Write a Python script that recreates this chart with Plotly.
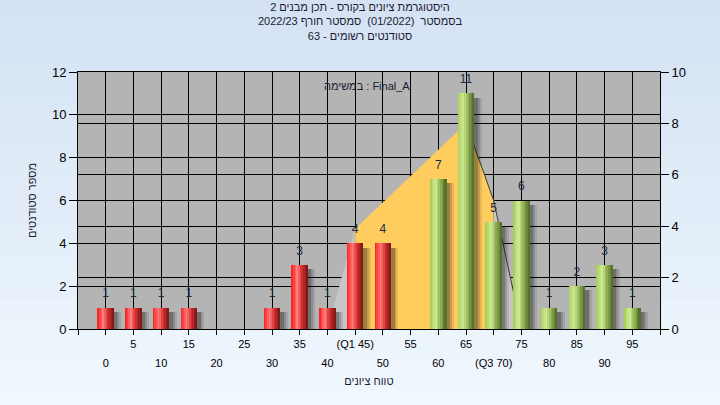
import plotly.graph_objects as go

# ---------------- data ----------------
grades = [0, 5, 10, 15, 20, 25, 30, 35, 40, 45, 50, 55, 60, 65, 70, 75, 80, 85, 90, 95]
counts = [1, 1, 1, 1, 0, 0, 1, 3, 1, 4, 4, 0, 7, 11, 5, 6, 1, 2, 3, 1]
tick_labels = ['0', '5', '10', '15', '20', '25', '30', '35', '40', '(Q1 45)',
               '50', '55', '60', '65', '(Q3 70)', '75', '80', '85', '90', '95']
curve_x = [40, 45, 65, 70, 75]
curve_y = [0, 3.9, 8.0, 5.0, 0]
q1, q3 = 45, 70
pass_grade = 55
title_lines = ['היסטוגרמת ציונים בקורס - תכן מבנים 2',
               'בסמסטר  (01/2022)  סמסטר חורף 2022/23',
               'סטודנטים רשומים - 63']
task_label = 'במשימה : Final_A'
y_title = 'מספר סטודנטים'
x_title = 'טווח ציונים'

# ---------------- style ----------------
FONT = 'Liberation Sans, Arial, DejaVu Sans, sans-serif'
W, H = 720, 405
ML, MR, MT, MB = 78, 60, 72, 76
BAR_W = 3.0
N_SLICES = 10
red_stops = [(0, (236, 30, 30)), (0.12, (255, 56, 56)), (0.36, (255, 128, 128)),
             (0.6, (218, 50, 50)), (1, (118, 20, 20))]
green_stops = [(0, (160, 200, 84)), (0.12, (182, 218, 108)), (0.34, (206, 234, 150)),
               (0.6, (150, 182, 86)), (1, (76, 104, 38))]


def interp(stops, t):
    for (t0, c0), (t1, c1) in zip(stops[:-1], stops[1:]):
        if t0 <= t <= t1:
            f = (t - t0) / (t1 - t0)
            c = [round(a + (b - a) * f) for a, b in zip(c0, c1)]
            return 'rgb(%d,%d,%d)' % tuple(c)
    return 'rgb(%d,%d,%d)' % stops[-1][1]


fig = go.Figure()

# overlay area (right axis = main y)
left_pts = [(x, y) for x, y in zip(curve_x, curve_y) if x <= q1]
mid_pts = [(x, y) for x, y in zip(curve_x, curve_y) if q1 <= x <= q3]
right_pts = [(x, y) for x, y in zip(curve_x, curve_y) if x >= q3]
peak_i = curve_y.index(max(curve_y))
line_pts = list(zip(curve_x, curve_y))[peak_i:]


def poly(pts, color):
    xs = [p[0] for p in pts]
    ys = [p[1] for p in pts]
    fig.add_trace(go.Scatter(x=xs, y=ys, fill='toself', fillcolor=color, mode='lines',
                             line=dict(width=0, color=color), xaxis='x', yaxis='y',
                             showlegend=False, hoverinfo='skip'))


poly(left_pts + [(q1, 0)], '#c6c6c6')
poly(right_pts + [(q3, 0)], '#c6c6c6')
poly([(q1, 0)] + mid_pts + [(q3, 0)], '#ffcc5e')
fig.add_trace(go.Scatter(x=[p[0] for p in line_pts], y=[p[1] for p in line_pts], mode='lines',
                         line=dict(color='#3c3c3c', width=1), xaxis='x', yaxis='y',
                         showlegend=False, hoverinfo='skip'))

# dummy for second tick row axis
fig.add_trace(go.Scatter(x=[grades[0]], y=[None], xaxis='x2', yaxis='y', mode='markers',
                         showlegend=False, hoverinfo='skip'))

# shadows
for dx, alpha in [(1.3, 0.10), (0.95, 0.16), (0.6, 0.24)]:
    fig.add_trace(go.Bar(x=grades, y=[max(c - 0.2, 0) for c in counts], width=BAR_W,
                         offset=-BAR_W / 2 + dx, xaxis='x', yaxis='y2',
                         marker=dict(color='rgba(20,20,20,%.2f)' % alpha, line=dict(width=0)),
                         showlegend=False, hoverinfo='skip'))

# cylinder bars as vertical slices
for i in range(N_SLICES):
    t = (i + 0.5) / N_SLICES
    cols = [interp(red_stops if g < pass_grade else green_stops, t) for g in grades]
    w = BAR_W / N_SLICES + (0.1 if i < N_SLICES - 1 else 0)
    fig.add_trace(go.Bar(x=grades, y=counts, width=w, offset=-BAR_W / 2 + i * BAR_W / N_SLICES,
                         xaxis='x', yaxis='y2', marker=dict(color=cols, line=dict(width=0)),
                         showlegend=False, hoverinfo='skip'))

# value labels
lx = [g for g, c in zip(grades, counts) if c > 0]
ly = [c for c in counts if c > 0]
fig.add_trace(go.Scatter(x=lx, y=ly, text=[str(c) for c in ly], mode='markers+text',
                         marker=dict(size=10, opacity=0),
                         textposition='top center', xaxis='x', yaxis='y2',
                         textfont=dict(family=FONT, size=12, color='#1c2a48'),
                         showlegend=False, hoverinfo='skip'))

# page background gradient + plot background
shapes = []
nb = 27
x_left, x_right = -ML / (W - ML - MR), 1 + MR / (W - ML - MR)
ph = H - MT - MB
for k in range(nb):
    f = k / (nb - 1)
    c0, c1 = (212, 226, 244), (240, 247, 253)
    col = 'rgb(%d,%d,%d)' % tuple(round(a + (b - a) * f) for a, b in zip(c0, c1))
    top_px = k * H / nb
    bot_px = (k + 1) * H / nb + 1
    shapes.append(dict(type='rect', xref='paper', yref='paper', layer='below',
                       x0=x_left, x1=x_right,
                       y0=1 - (bot_px - MT) / ph, y1=1 - (top_px - MT) / ph,
                       fillcolor=col, line=dict(width=0)))
shapes.append(dict(type='rect', xref='paper', yref='paper', layer='below', x0=0, x1=1, y0=0, y1=1,
                   fillcolor='#b4b4b4', line=dict(width=0)))

row2 = [(g, t) for i, (g, t) in enumerate(zip(grades, tick_labels)) if i % 2 == 0]
edge_lo, edge_hi = grades[0] - 5, grades[-1] + 5
x_ticks = [edge_lo] + grades + [edge_hi]
x_text = [''] + [t if i % 2 == 1 else '' for i, t in enumerate(tick_labels)] + ['']

fig.update_layout(
    width=W, height=H,
    margin=dict(l=ML, r=MR, t=MT, b=MB),
    paper_bgcolor='#e4edf8', plot_bgcolor='rgba(0,0,0,0)',
    barmode='overlay', bargap=0,
    shapes=shapes,
    font=dict(family=FONT, color='#000000'),
    title=dict(text='<br>'.join(title_lines), x=0.5, xref='container', xanchor='center',
               y=1 - 11 / H, yref='container', yanchor='top',
               font=dict(family=FONT, size=11, color='#1a1a30')),
    xaxis=dict(range=[edge_lo, edge_hi], anchor='y', tickmode='array', tickvals=x_ticks, ticktext=x_text,
               ticks='outside', ticklen=5, tickcolor='black', showgrid=True, gridcolor='black', gridwidth=1,
               showline=True, linecolor='black', linewidth=1, mirror=True, zeroline=False,
               tickfont=dict(size=11, color='black'),
               title=dict(text=x_title, standoff=28, font=dict(size=11, color='#1a1a30'))),
    xaxis2=dict(range=[edge_lo, edge_hi], overlaying='x', anchor='y', side='bottom', tickmode='array',
                tickvals=[g for g, _ in row2], ticktext=[t for _, t in row2],
                ticks='outside', ticklen=5, tickcolor='rgba(0,0,0,0)', showgrid=False, showline=False,
                zeroline=False, ticklabelstandoff=19, tickfont=dict(size=11, color='black')),
    yaxis=dict(range=[0, 10], side='right', dtick=2, ticks='outside', ticklen=8, tickcolor='black',
               showgrid=True, gridcolor='black', gridwidth=1, showline=True, linecolor='black',
               zeroline=False, tickfont=dict(size=13, color='black')),
    yaxis2=dict(range=[0, 12], overlaying='y', side='left', dtick=2, ticks='outside', ticklen=8,
                tickcolor='black', showgrid=True, gridcolor='black', gridwidth=1, showline=True,
                linecolor='black', zeroline=False, tickfont=dict(size=13, color='black'),
                title=dict(text=y_title, standoff=13, font=dict(size=11, color='#1a1a30'))),
    annotations=[dict(text=task_label, xref='paper', yref='paper', x=0.497, y=0.976,
                      showarrow=False, font=dict(family=FONT, size=11, color='#1a1a30'))],
)

fig.write_html('out.html', config={'displayModeBar': False},
               post_script="document.body.style.margin='0px';document.body.style.background='#e4edf8';")
